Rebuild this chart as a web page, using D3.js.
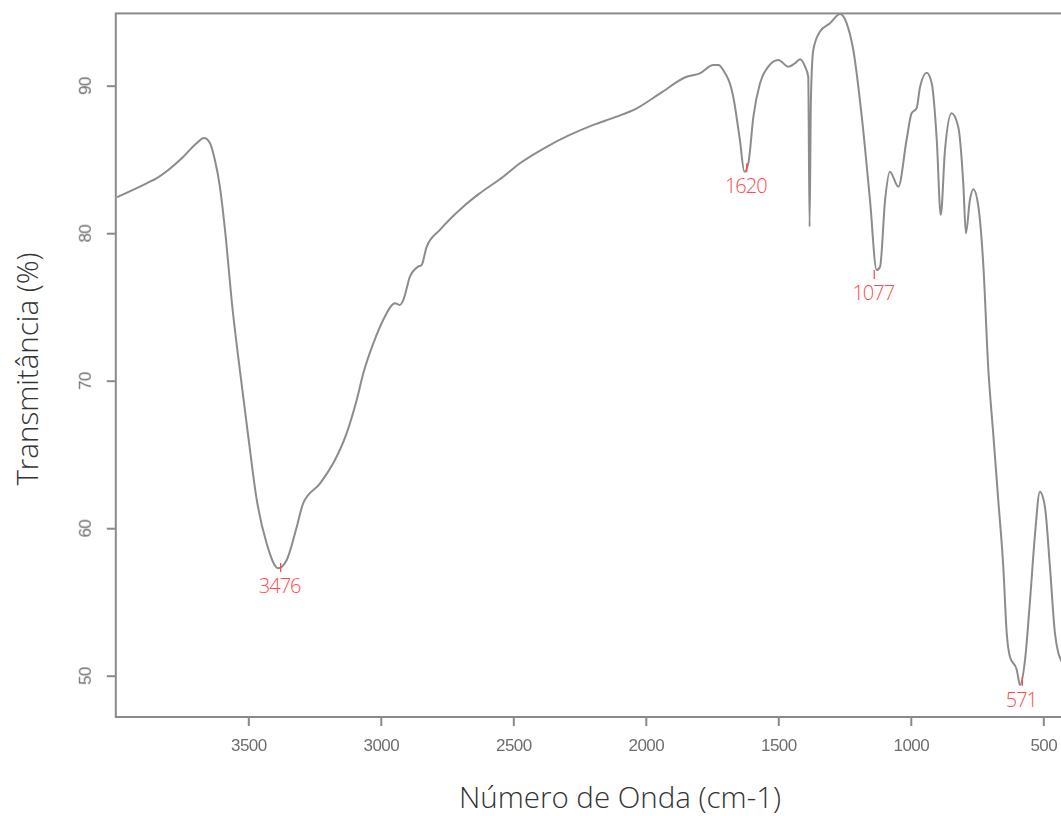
<!DOCTYPE html>
<html>
<head>
<meta charset="utf-8">
<script src="https://cdn.jsdelivr.net/npm/d3@7/dist/d3.min.js"></script>
<style>
  html, body { margin: 0; padding: 0; background: #fff; }
  svg { display: block; }
</style>
</head>
<body>
<svg id="chart" width="1061" height="816"></svg>
<script>
// ---- data ----
const wavenumber = [3995,3882,3845,3746,3694,3667,3645,3626,3607,3584,3563,3531,3500,3468,3431,3387,3355,3317,3293,3229,3173,3129,3091,3066,3028,2991,2946,2928,2915,2890,2859,2846,2827,2777,2689,2626,2538,2475,2374,2198,2110,2034,1946,1846,1796,1745,1726,1708,1670,1645,1628,1613,1594,1569,1538,1500,1462,1437,1418,1399,1387,1382,1377,1368,1343,1305,1267,1242,1217,1185,1154,1129,1116,1097,1079,1047,1016,997,978,965,940,921,902,887,871,846,821,802,792,777,764,745,726,708,689,670,651,638,626,600,588,569,550,531,513,494,475,456,443,433,420];
const transmittance = [82.45,83.40,83.74,85.17,86.12,86.45,86.12,84.96,83.13,79.54,75.47,70.6,66.2,61.91,58.98,57.28,57.84,60.10,61.69,63.04,64.62,66.43,68.69,70.50,72.54,74.12,75.25,75.13,75.47,77.05,77.73,77.84,79.08,80.22,81.80,82.71,83.83,84.74,85.86,87.34,87.90,88.47,89.48,90.61,90.84,91.40,91.40,91.06,89.25,86.32,84.17,84.76,87.90,90.16,91.29,91.74,91.29,91.52,91.79,91.29,90.61,80.44,89.03,92.42,93.66,94.23,94.86,94.23,92.42,87.90,82.25,77.50,77.73,82.25,84.17,83.15,86.32,88.13,88.47,89.93,90.88,90.16,86.32,81.23,85.64,88.13,87.22,83.38,79.99,82.25,82.98,81.80,77.73,70.95,66.43,61.91,57.39,52.87,51.29,50.39,49.37,51.06,55.13,59.65,62.47,61.46,57.39,52.87,51.52,51.06,50.5];

const xTicks = [3500, 3000, 2500, 2000, 1500, 1000, 500];
const yTicks = [50, 60, 70, 80, 90];

const peakLabels = ["3476", "1620", "1077", "571"];
const peakWn = [3378, 1619, 1138, 579];
const peakT = [57.64, 84.74, 77.50, 49.93];

const xTitle = "Número de Onda (cm-1)";
const yTitle = "Transmitância (%)";

// ---- layout ----
const svg = d3.select("#chart");
const x = d3.scaleLinear().domain([4000, 400]).range([115.8, 1069.8]);
const y = d3.scaleLinear().domain([50, 90]).range([675.7, 85.7]);
const yTop = 94.9, yBottom = 47.2;

const axisColor = "#8a8a8a";
const tickTextColor = "#6e6e6e";

// blur filter to mimic the soft look of the reference
const defs = svg.append("defs");
defs.append("filter").attr("id", "soft")
  .append("feGaussianBlur").attr("stdDeviation", 0.45);

// frame box
svg.append("rect")
  .attr("x", x(4000)).attr("y", y(yTop))
  .attr("width", x(400) - x(4000)).attr("height", y(yBottom) - y(yTop))
  .attr("fill", "none").attr("stroke", axisColor).attr("stroke-width", 2);

// x axis
const gx = svg.append("g")
  .attr("transform", `translate(0,${y(yBottom)})`)
  .call(d3.axisBottom(x).tickValues(xTicks).tickSize(9).tickPadding(13).tickFormat(d3.format("d")));
gx.select(".domain").remove();
gx.selectAll(".tick line").attr("stroke", axisColor).attr("stroke-width", 2);
gx.selectAll(".tick text")
  .attr("fill", tickTextColor)
  .attr("font-family", "'Liberation Sans', Arial, sans-serif")
  .attr("font-size", 17)
  .attr("letter-spacing", -0.6)
  .attr("filter", "url(#soft)");

// y axis
const gy = svg.append("g")
  .attr("transform", `translate(${x(4000)},0)`)
  .call(d3.axisLeft(y).tickValues(yTicks).tickSize(9).tickFormat(d3.format("d")));
gy.select(".domain").remove();
gy.selectAll(".tick line").attr("stroke", axisColor).attr("stroke-width", 2);
gy.selectAll(".tick text")
  .attr("fill", tickTextColor)
  .attr("font-family", "'Liberation Sans', Arial, sans-serif")
  .attr("font-size", 17)
  .attr("letter-spacing", -0.6)
  .attr("text-anchor", "middle")
  .attr("dy", null)
  .attr("x", -31)
  .attr("y", 0)
  .attr("transform", "rotate(-90,-31,0)")
  .attr("dominant-baseline", "central")
  .attr("filter", "url(#soft)");

// spectrum line
const pts = wavenumber.map((w, i) => [w, transmittance[i]]);
const line = d3.line()
  .x(d => x(d[0]))
  .y(d => y(d[1]))
  .curve(d3.curveMonotoneX);
svg.append("path")
  .datum(pts)
  .attr("d", line)
  .attr("fill", "none")
  .attr("stroke", "#8c8c8c")
  .attr("stroke-width", 2)
  .attr("stroke-linejoin", "round")
  .attr("filter", "url(#soft)");

// peak annotations
const peaks = peakLabels.map((l, i) => ({ label: l, w: peakWn[i], t: peakT[i] }));
const pg = svg.append("g").selectAll("g").data(peaks).join("g")
  .attr("transform", d => `translate(${x(d.w)},${y(d.t)})`);
pg.append("line")
  .attr("x1", 0).attr("x2", 0).attr("y1", 0).attr("y2", 9)
  .attr("stroke", "#ff4a4a").attr("stroke-width", 1.3);
pg.append("text")
  .attr("x", -1).attr("y", 30)
  .attr("text-anchor", "middle")
  .attr("fill", "#ff4a4a")
  .attr("font-family", "'Open Sans', sans-serif")
  .attr("font-weight", 300)
  .attr("font-size", 20)
  .attr("letter-spacing", -1)
  .text(d => d.label);

// axis titles
svg.append("text")
  .attr("x", 620).attr("y", 808)
  .attr("text-anchor", "middle")
  .attr("fill", "#333")
  .attr("font-family", "'Open Sans', sans-serif")
  .attr("font-weight", 300)
  .attr("font-size", 29.5)
  .text(xTitle);

svg.append("text")
  .attr("transform", "translate(38,369) rotate(-90)")
  .attr("text-anchor", "middle")
  .attr("fill", "#333")
  .attr("font-family", "'Open Sans', sans-serif")
  .attr("font-weight", 300)
  .attr("font-size", 29.5)
  .text(yTitle);
</script>
</body>
</html>
